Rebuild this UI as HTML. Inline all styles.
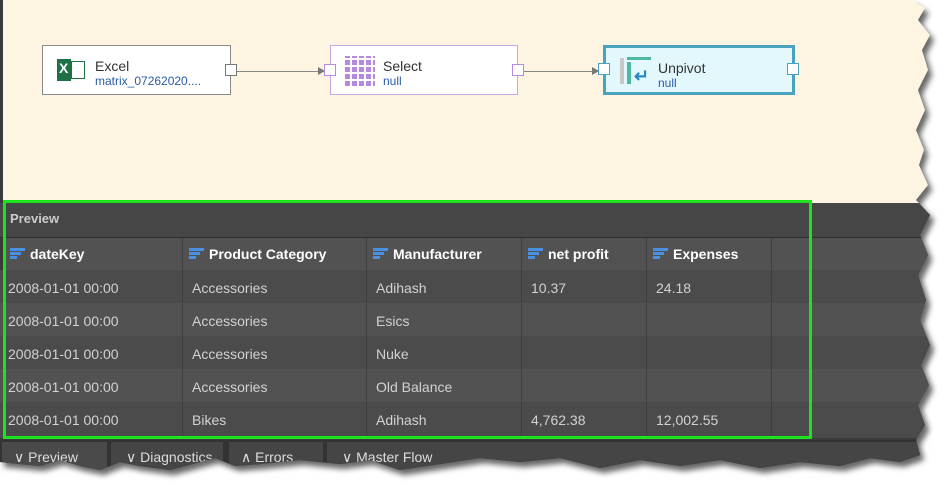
<!DOCTYPE html>
<html><head><meta charset="utf-8"><style>
html,body{margin:0;padding:0;width:951px;height:499px;background:#fff;overflow:hidden;font-family:"Liberation Sans",sans-serif}
#wrap{position:absolute;left:0;top:0;width:951px;height:499px;filter:drop-shadow(4px 5px 3px rgba(0,0,0,.6))}
#clip{position:absolute;left:0;top:0;width:951px;height:499px;
clip-path:polygon(0 0,912px 0,925px 8px,918px 20px,930px 35px,922px 50px,928px 70px,918px 90px,925px 110px,916px 130px,924px 150px,919px 165px,928px 185px,916px 200px,930px 215px,920px 235px,928px 255px,918px 275px,926px 300px,920px 320px,930px 345px,921px 365px,929px 385px,918px 405px,925px 425px,916px 440px,920px 455px,900px 462px,870px 458px,840px 466px,800px 462px,760px 468px,720px 460px,680px 466px,640px 460px,600px 468px,560px 458px,520px 462px,480px 458px,440px 464px,400px 470px,370px 460px,340px 464px,300px 460px,260px 464px,235px 466px,215px 458px,200px 462px,170px 470px,140px 466px,120px 462px,100px 470px,80px 466px,60px 460px,40px 466px,20px 464px,0 462px)}
.bg{position:absolute;left:0;top:0;width:951px;height:203px;background:#fdf5e1;border-left:3px solid #3a3a3a;box-sizing:border-box}
.node{position:absolute;top:45px;height:50px;box-sizing:border-box;background:#fff}
.t{position:absolute;left:52px;top:12px;font-size:14px;color:#333}
.s{position:absolute;left:52px;top:28px;font-size:12px;color:#2a5ca8}
.port{position:absolute;top:18px;width:12px;height:12px;background:#fff;box-sizing:border-box}
.panel{position:absolute;left:0;top:203px;width:951px;height:300px;background:#3a3a3a}
.cell{position:absolute;height:32px;line-height:32px;font-size:14px;color:#d2d2d2;padding-left:5px;box-sizing:border-box;border-right:1px solid #3e3e3e}
.h{font-weight:bold;color:#fff;background:#525252;padding-left:26px}
.ic{position:absolute;left:6px;top:10px;width:15px;height:12px}
.ic i{display:block;height:3px;background:#4a90e2;margin-bottom:1px}
.tab{position:absolute;top:442px;height:40px;background:#454545;color:#ddd;font-size:14px;line-height:30px}
</style></head><body>
<div id="wrap"><div id="clip">
<div class="bg"></div>
<div style="position:absolute;left:237px;top:71px;width:87px;height:1px;background:#888"></div>
<div style="position:absolute;left:318px;top:67px;border-left:7px solid #777;border-top:4px solid transparent;border-bottom:4px solid transparent"></div>
<div style="position:absolute;left:524px;top:71px;width:74px;height:1px;background:#888"></div>
<div style="position:absolute;left:592px;top:67px;border-left:7px solid #777;border-top:4px solid transparent;border-bottom:4px solid transparent"></div>
<div class="node" style="left:42px;width:189px;border:1px solid #8a8a8a">
 <div style="position:absolute;left:14px;top:13px;width:14px;height:22px;background:#1e7145"></div>
 <div style="position:absolute;left:28px;top:15px;width:14px;height:18px;border:1px solid #1e7145;box-sizing:border-box"></div>
 <div style="position:absolute;left:16px;top:14px;color:#fff;font-weight:bold;font-size:14px">X</div>
 <div class="t">Excel</div><div class="s">matrix_07262020....</div>
 <div class="port" style="left:182px;border:1px solid #777"></div>
</div>
<div class="node" style="left:330px;width:188px;border:1px solid #c9a8e8">
 <div style="position:absolute;left:14px;top:10px;width:30px;height:30px;background:repeating-linear-gradient(90deg,#b48be0 0 5px,transparent 5px 7px),#fff;-webkit-mask:repeating-linear-gradient(0deg,#000 0 5px,transparent 5px 7px);mask:repeating-linear-gradient(0deg,#000 0 5px,transparent 5px 7px)"></div>
 <div class="t">Select</div><div class="s">null</div>
 <div class="port" style="left:-7px;border:1px solid #b48be0"></div>
 <div class="port" style="left:181px;border:1px solid #b48be0"></div>
</div>
<div class="node" style="left:603px;width:192px;border:3px solid #4aa3bd;background:#e3f8fd">
 <div style="position:absolute;left:14px;top:10px;width:4px;height:26px;background:#c8c8c8"></div>
 <div style="position:absolute;left:21px;top:9px;width:24px;height:3px;background:#4fb8a0"></div>
 <div style="position:absolute;left:21px;top:14px;width:4px;height:22px;background:#4fb8a0"></div>
 <div style="position:absolute;left:28px;top:18px;color:#2b86c4;font-weight:bold;font-size:18px">↵</div>
 <div class="t">Unpivot</div><div class="s">null</div>
 <div class="port" style="left:-8px;top:15px;border:1px solid #4aa3bd"></div>
 <div class="port" style="left:181px;top:15px;border:1px solid #4aa3bd"></div>
</div>
<div class="panel"></div>
<div style="position:absolute;left:0;top:203px;width:951px;height:34px;background:#464646;border-bottom:1px solid #2e2e2e"></div>
<div style="position:absolute;left:10px;top:211px;color:#ccc;font-size:13px;font-weight:bold">Preview</div>

<div class="cell h" style="left:4px;top:238px;width:179px"><span class="ic"><i style="width:15px"></i><i style="width:11px"></i><i style="width:7px"></i></span>dateKey</div>
<div class="cell h" style="left:183px;top:238px;width:184px"><span class="ic"><i style="width:15px"></i><i style="width:11px"></i><i style="width:7px"></i></span>Product Category</div>
<div class="cell h" style="left:367px;top:238px;width:155px"><span class="ic"><i style="width:15px"></i><i style="width:11px"></i><i style="width:7px"></i></span>Manufacturer</div>
<div class="cell h" style="left:522px;top:238px;width:125px"><span class="ic"><i style="width:15px"></i><i style="width:11px"></i><i style="width:7px"></i></span>net profit</div>
<div class="cell h" style="left:647px;top:238px;width:125px"><span class="ic"><i style="width:15px"></i><i style="width:11px"></i><i style="width:7px"></i></span>Expenses</div>
<div class="cell h" style="left:772px;top:238px;width:160px"></div>

<div style="position:absolute;left:0;top:270px;width:951px;height:33px;background:#4b4b4b"></div>
<div style="position:absolute;left:0;top:303px;width:951px;height:33px;background:#525252"></div>
<div style="position:absolute;left:0;top:336px;width:951px;height:33px;background:#4b4b4b"></div>
<div style="position:absolute;left:0;top:369px;width:951px;height:33px;background:#525252"></div>
<div style="position:absolute;left:0;top:402px;width:951px;height:36px;background:#4b4b4b"></div>
<div style="position:absolute;left:182px;top:270px;width:1px;height:168px;background:#3e3e3e"></div>
<div style="position:absolute;left:366px;top:270px;width:1px;height:168px;background:#3e3e3e"></div>
<div style="position:absolute;left:521px;top:270px;width:1px;height:168px;background:#3e3e3e"></div>
<div style="position:absolute;left:646px;top:270px;width:1px;height:168px;background:#3e3e3e"></div>
<div style="position:absolute;left:771px;top:270px;width:1px;height:168px;background:#3e3e3e"></div>

<div style="position:absolute;left:8px;top:272px;font-size:14px;color:#d2d2d2;line-height:33px">2008-01-01 00:00<br>2008-01-01 00:00<br>2008-01-01 00:00<br>2008-01-01 00:00<br>2008-01-01 00:00</div>
<div style="position:absolute;left:192px;top:272px;font-size:14px;color:#d2d2d2;line-height:33px">Accessories<br>Accessories<br>Accessories<br>Accessories<br>Bikes</div>
<div style="position:absolute;left:376px;top:272px;font-size:14px;color:#d2d2d2;line-height:33px">Adihash<br>Esics<br>Nuke<br>Old Balance<br>Adihash</div>
<div style="position:absolute;left:531px;top:272px;font-size:14px;color:#d2d2d2;line-height:33px">10.37<br>&nbsp;<br>&nbsp;<br>&nbsp;<br>4,762.38</div>
<div style="position:absolute;left:656px;top:272px;font-size:14px;color:#d2d2d2;line-height:33px">24.18<br>&nbsp;<br>&nbsp;<br>&nbsp;<br>12,002.55</div>

<div style="position:absolute;left:3px;top:200px;width:809px;height:239px;border:3px solid #1de31d;box-sizing:border-box"></div>
<div style="position:absolute;left:0;top:440px;width:951px;height:50px;background:#333"></div>
<div class="tab" style="left:2px;width:105px;background:#4a4a4a"><span style="margin-left:12px">∨ Preview</span></div>
<div class="tab" style="left:111px;width:112px"><span style="margin-left:15px">∨ Diagnostics</span></div>
<div class="tab" style="left:229px;width:94px"><span style="margin-left:12px">∧ Errors</span></div>
<div class="tab" style="left:327px;width:624px"><span style="margin-left:15px">∨ Master Flow</span></div>
</div></div>
</body></html>
